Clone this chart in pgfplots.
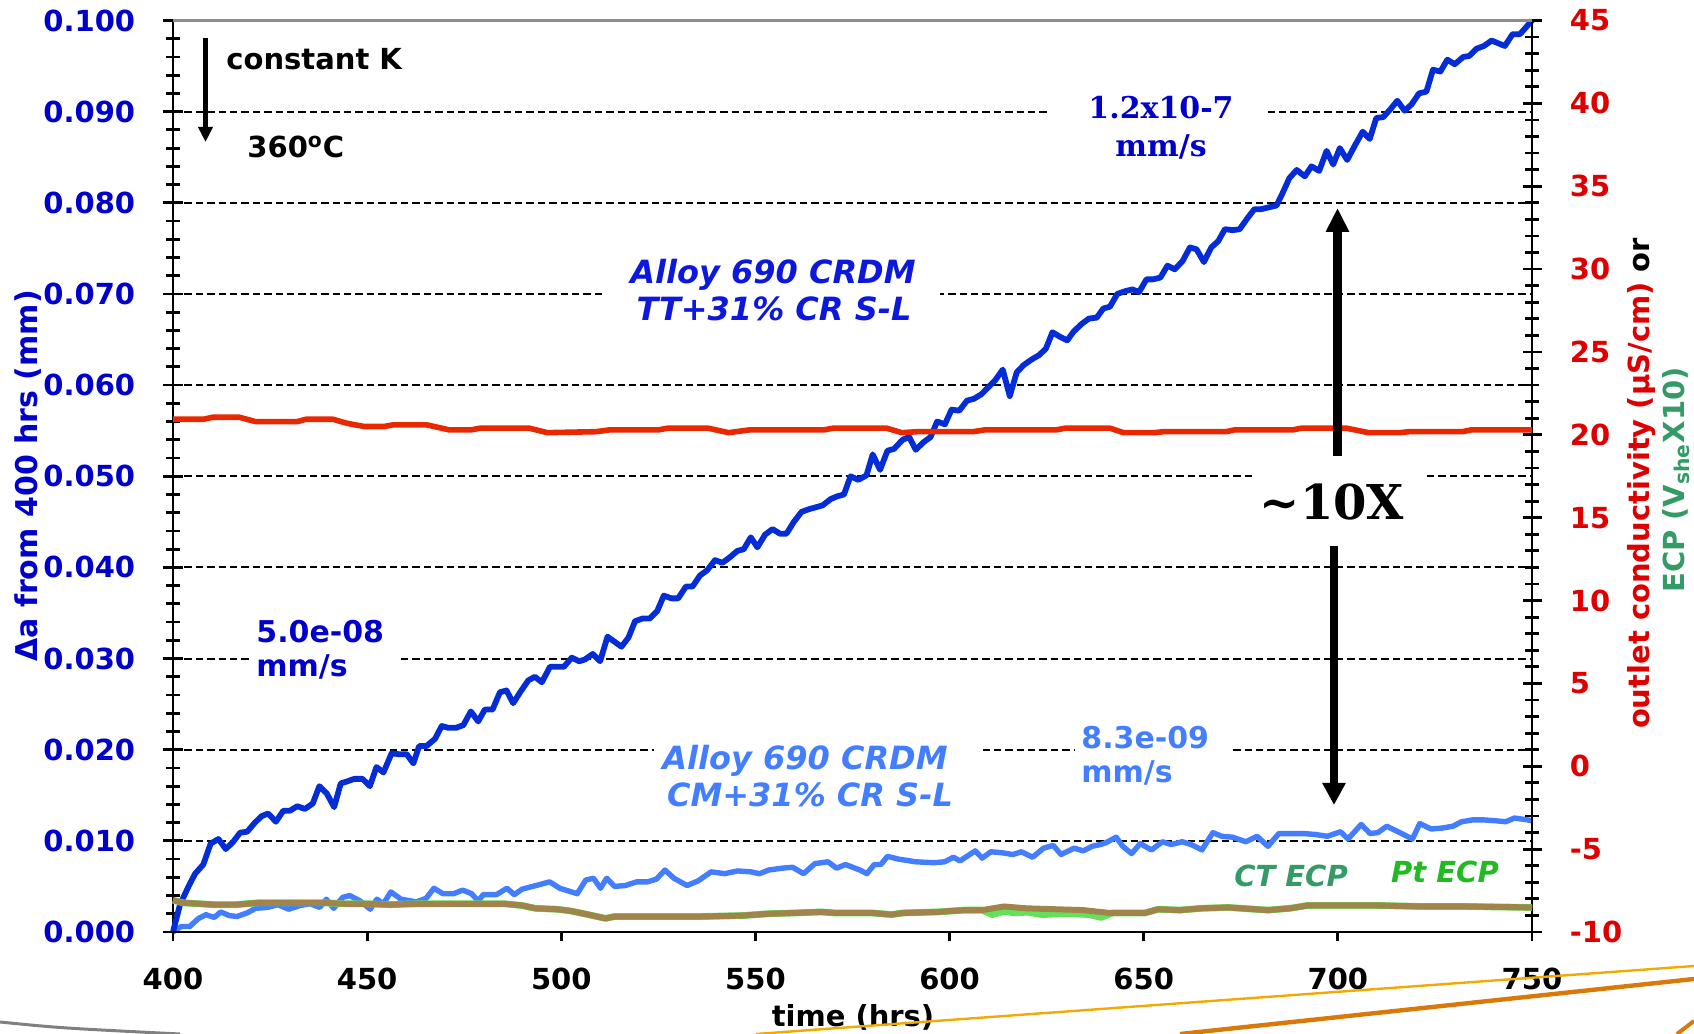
\documentclass[border=0pt]{standalone}
\usepackage{fontspec}
\setmainfont{DejaVu Sans}
\newfontfamily\serifbf{DejaVu Serif}
\usepackage{pgfplots}
\usepackage{pgfplotstable}
\pgfplotsset{compat=1.18}
\usetikzlibrary{arrows.meta}

\definecolor{tickblue}{RGB}{0,0,204}
\definecolor{ttblue}{RGB}{12,24,220}
\definecolor{curveblue}{RGB}{5,45,215}
\definecolor{cmblue}{RGB}{66,126,255}
\definecolor{condred}{RGB}{232,40,0}
\definecolor{textred}{RGB}{222,0,0}
\definecolor{ecptan}{RGB}{160,132,76}
\definecolor{ctgreen}{RGB}{52,155,102}
\definecolor{ptgreen}{RGB}{34,185,34}
\definecolor{ptline}{RGB}{100,225,90}
\definecolor{framegray}{RGB}{140,140,140}
\definecolor{swooshA}{RGB}{242,169,0}
\definecolor{swooshB}{RGB}{217,121,10}

\newcommand{\fs}[1]{\fontsize{#1}{#1}\selectfont}

% crack extension (mm) of the TT specimen
\pgfplotstableread{
t da
400.0 0.0000
401.8 0.0030
404.0 0.0050
405.7 0.0064
407.8 0.0074
409.7 0.0097
411.7 0.0102
413.6 0.0091
415.5 0.0099
417.3 0.0109
419.1 0.0110
421.1 0.0120
422.8 0.0127
424.5 0.0130
426.5 0.0121
428.4 0.0133
430.1 0.0133
432.0 0.0138
434.0 0.0135
436.0 0.0141
437.7 0.0160
439.6 0.0152
441.5 0.0137
443.2 0.0163
444.7 0.0165
446.7 0.0168
448.8 0.0168
450.7 0.0160
452.4 0.0181
454.2 0.0175
456.3 0.0196
458.3 0.0195
460.2 0.0195
461.9 0.0185
463.4 0.0204
465.3 0.0204
467.5 0.0212
469.2 0.0226
470.9 0.0224
472.9 0.0224
474.8 0.0227
476.7 0.0242
478.6 0.0231
480.3 0.0244
482.3 0.0244
484.2 0.0263
485.9 0.0265
487.6 0.0251
489.4 0.0263
491.5 0.0276
493.2 0.0280
495.0 0.0274
497.1 0.0291
499.0 0.0291
500.7 0.0291
502.7 0.0301
504.6 0.0297
506.1 0.0299
508.1 0.0305
510.0 0.0297
511.9 0.0324
515.5 0.0313
517.3 0.0323
519.0 0.0341
521.0 0.0344
522.8 0.0344
524.7 0.0352
526.4 0.0369
528.4 0.0366
530.1 0.0366
532.1 0.0379
533.8 0.0379
535.7 0.0391
537.6 0.0397
539.6 0.0408
541.5 0.0405
543.4 0.0411
545.3 0.0418
547.0 0.0420
548.8 0.0433
550.5 0.0422
552.5 0.0436
554.4 0.0442
556.3 0.0437
558.0 0.0437
559.9 0.0450
561.9 0.0461
563.9 0.0464
565.6 0.0466
567.3 0.0468
569.4 0.0475
571.1 0.0478
572.8 0.0480
574.5 0.0500
576.5 0.0496
578.6 0.0501
580.2 0.0524
582.1 0.0507
584.0 0.0528
585.7 0.0530
587.9 0.0540
589.6 0.0543
591.3 0.0529
593.2 0.0537
595.1 0.0543
596.8 0.0560
598.8 0.0557
600.5 0.0573
602.5 0.0572
604.5 0.0583
606.3 0.0585
608.2 0.0590
611.7 0.0605
613.7 0.0617
615.5 0.0588
617.3 0.0614
619.1 0.0622
621.1 0.0628
623.1 0.0633
624.8 0.0640
626.5 0.0658
628.4 0.0653
630.3 0.0649
632.0 0.0659
634.0 0.0667
635.9 0.0673
637.9 0.0674
639.6 0.0684
641.3 0.0686
643.2 0.0700
645.2 0.0703
647.1 0.0705
648.8 0.0702
650.7 0.0716
652.4 0.0716
654.3 0.0718
656.1 0.0731
658.0 0.0727
660.0 0.0736
661.9 0.0751
663.6 0.0749
665.5 0.0735
667.4 0.0751
669.2 0.0758
670.9 0.0771
672.9 0.0770
674.7 0.0771
676.7 0.0783
678.5 0.0793
680.2 0.0793
684.2 0.0797
685.7 0.0810
687.5 0.0827
689.4 0.0836
691.5 0.0829
693.2 0.0840
695.2 0.0835
697.1 0.0857
698.8 0.0842
700.5 0.0860
702.4 0.0847
704.4 0.0863
706.4 0.0878
708.2 0.0870
709.9 0.0893
711.7 0.0894
713.6 0.0903
715.3 0.0912
717.2 0.0901
719.0 0.0908
720.9 0.0920
722.8 0.0922
724.5 0.0946
726.4 0.0944
728.2 0.0957
730.1 0.0952
732.3 0.0960
733.8 0.0961
735.7 0.0969
737.6 0.0972
739.6 0.0978
741.3 0.0975
743.0 0.0972
745.0 0.0985
746.9 0.0985
750.0 0.1000
}\ttdata

% crack extension (mm) of the CM specimen
\pgfplotstableread{
t da
400.0 0.0000
402.1 0.0006
404.3 0.0006
406.6 0.0015
408.5 0.0019
410.6 0.0016
412.3 0.0022
414.5 0.0018
416.5 0.0017
419.1 0.0021
421.3 0.0026
424.4 0.0027
427.0 0.0030
429.8 0.0025
432.7 0.0029
435.3 0.0031
437.8 0.0027
439.5 0.0036
441.4 0.0026
443.7 0.0038
445.5 0.0040
448.2 0.0034
450.8 0.0025
452.5 0.0036
454.2 0.0031
456.1 0.0044
458.7 0.0036
462.7 0.0033
465.2 0.0037
467.2 0.0048
469.5 0.0042
472.3 0.0042
474.6 0.0046
476.9 0.0042
478.6 0.0034
479.9 0.0041
483.3 0.0041
486.0 0.0048
487.9 0.0041
489.9 0.0047
493.5 0.0051
497.0 0.0055
499.6 0.0048
504.1 0.0042
506.3 0.0057
508.3 0.0059
510.1 0.0048
511.7 0.0059
513.7 0.0050
516.5 0.0051
519.4 0.0055
522.2 0.0055
524.5 0.0058
526.7 0.0068
529.0 0.0059
532.4 0.0051
535.2 0.0056
538.6 0.0066
542.1 0.0064
545.4 0.0067
548.8 0.0066
551.1 0.0064
553.4 0.0068
556.8 0.0070
559.6 0.0071
562.4 0.0064
565.3 0.0075
568.7 0.0077
570.9 0.0070
573.2 0.0074
576.9 0.0068
578.7 0.0064
580.6 0.0074
582.3 0.0074
584.0 0.0083
586.8 0.0080
591.3 0.0077
595.9 0.0076
598.7 0.0077
601.0 0.0082
602.7 0.0078
606.6 0.0089
608.4 0.0081
610.6 0.0088
613.4 0.0087
616.3 0.0085
618.5 0.0088
621.4 0.0082
624.2 0.0092
626.7 0.0095
628.7 0.0085
632.1 0.0092
634.4 0.0089
636.7 0.0094
638.9 0.0096
640.3 0.0098
642.9 0.0104
644.6 0.0094
646.9 0.0086
649.1 0.0097
652.0 0.0090
654.8 0.0099
657.1 0.0096
659.9 0.0099
662.2 0.0096
665.0 0.0090
667.8 0.0109
670.1 0.0105
672.9 0.0104
676.3 0.0099
679.2 0.0105
682.0 0.0094
684.8 0.0108
687.7 0.0108
691.1 0.0108
694.2 0.0107
697.3 0.0105
700.7 0.0110
702.6 0.0102
706.0 0.0118
708.3 0.0108
710.3 0.0109
712.6 0.0116
715.5 0.0110
719.2 0.0102
721.1 0.0119
724.0 0.0113
726.8 0.0114
729.6 0.0116
731.9 0.0121
734.7 0.0123
737.5 0.0123
740.7 0.0122
743.2 0.0121
745.5 0.0125
748.9 0.0123
750.0 0.0122
}\cmdata

% outlet conductivity (uS/cm)
\pgfplotstableread{
t k
400.0 20.94
407.9 20.94
410.2 21.06
417.1 21.06
421.2 20.80
432.0 20.80
434.3 20.94
441.2 20.94
444.7 20.70
449.3 20.50
454.3 20.50
456.6 20.60
465.4 20.60
471.1 20.30
476.8 20.30
479.1 20.40
491.8 20.40
496.4 20.13
509.0 20.19
512.5 20.30
525.1 20.30
527.4 20.40
537.8 20.40
543.1 20.13
548.6 20.30
567.7 20.30
570.0 20.40
583.8 20.40
587.7 20.13
591.8 20.19
606.1 20.19
609.1 20.30
627.5 20.30
629.8 20.40
641.3 20.40
644.8 20.13
652.8 20.13
655.1 20.19
671.2 20.19
673.5 20.30
688.4 20.30
690.7 20.40
702.2 20.40
707.9 20.13
716.0 20.13
718.3 20.19
732.1 20.19
734.4 20.30
750.0 20.30
}\conddata

% ECP x10 (V_she)
\pgfplotstableread{
t e
400.0 -8.08
402.6 -8.24
410.6 -8.35
416.2 -8.35
421.9 -8.24
431.0 -8.24
438.9 -8.24
444.6 -8.30
450.2 -8.30
455.9 -8.35
462.7 -8.30
469.5 -8.30
476.3 -8.30
485.4 -8.30
489.9 -8.40
493.3 -8.57
499.0 -8.63
502.4 -8.73
506.9 -8.95
511.4 -9.18
513.7 -9.07
523.9 -9.07
535.2 -9.07
546.6 -9.01
553.4 -8.90
560.2 -8.85
567.0 -8.79
570.4 -8.85
576.9 -8.85
580.0 -8.85
585.1 -8.95
588.0 -8.85
597.0 -8.79
603.8 -8.68
608.4 -8.68
614.0 -8.46
619.7 -8.57
627.6 -8.63
634.4 -8.68
641.2 -8.85
650.3 -8.85
653.7 -8.63
659.3 -8.68
665.0 -8.57
671.8 -8.52
682.0 -8.68
687.7 -8.57
692.2 -8.40
699.0 -8.40
710.3 -8.40
721.7 -8.46
733.0 -8.46
750.0 -8.52
}\ctdata

\pgfplotstableread{
t e
400.0 -8.08
402.6 -8.24
410.6 -8.35
416.2 -8.35
421.9 -8.24
431.0 -8.24
438.9 -8.24
444.6 -8.30
450.2 -8.30
455.9 -8.35
462.7 -8.30
469.5 -8.30
476.3 -8.30
485.4 -8.30
489.9 -8.40
493.3 -8.57
499.0 -8.63
502.4 -8.73
506.9 -8.95
511.4 -9.18
513.7 -9.07
523.9 -9.07
535.2 -9.07
546.6 -9.01
553.4 -8.90
560.2 -8.85
567.0 -8.79
570.4 -8.85
576.9 -8.85
580.0 -8.85
585.1 -8.95
588.0 -8.85
597.0 -8.79
603.8 -8.68
608.4 -8.68
611.0 -8.95
614.0 -8.75
617.0 -8.85
620.0 -8.80
624.0 -8.95
628.0 -8.90
632.0 -8.90
636.0 -8.95
639.0 -9.12
642.0 -8.85
650.3 -8.85
653.7 -8.63
659.3 -8.68
665.0 -8.57
671.8 -8.52
682.0 -8.68
687.7 -8.57
692.2 -8.40
699.0 -8.40
710.3 -8.40
721.7 -8.46
733.0 -8.46
750.0 -8.52
}\ptdata

\pgfplotsset{
  frame/.style={
    scale only axis, width=679.5pt, height=455.75pt,
    at={(86.5pt,51pt)}, anchor=south west,
    xmin=400, xmax=750, clip=false,
    axis line style={line width=1.3pt, black},
    tick style={black, line width=1.4pt},
    major tick length=9.5pt, minor tick length=7pt,
  },
}

\begin{document}
\begin{tikzpicture}
\useasboundingbox (0pt,0pt) rectangle (847pt,517pt);

% left axis: crack extension
\begin{axis}[frame,
  ymin=0, ymax=0.1,
  axis x line=none, axis y line*=left,
  tick align=center,
  ytick={0,0.01,0.02,0.03,0.04,0.05,0.06,0.07,0.08,0.09,0.1},
  yticklabels={0.000,0.010,0.020,0.030,0.040,0.050,0.060,0.070,0.080,0.090,0.100},
  minor y tick num=4,
  ymajorgrids,
  grid style={black, line width=1pt, dash pattern=on 3.7pt off 2pt},
  yticklabel style={font=\fs{14.5}\bfseries, text=tickblue, anchor=east, inner sep=0pt, xshift=-14pt},
]
\addplot[cmblue, line width=2.7pt, line join=round] table[x=t, y=da] {\cmdata};
\addplot[curveblue, line width=2.9pt, line join=round] table[x=t, y=da] {\ttdata};
\end{axis}

% right axis: conductivity and ECP
\begin{axis}[frame,
  ymin=-10, ymax=45,
  axis x line=none, axis y line*=right,
  tick align=center,
  ytick={-10,-5,0,5,10,15,20,25,30,35,40,45},
  yticklabels={-10,-5,0,5,10,15,20,25,30,35,40,45},
  minor y tick num=4,
  yticklabel style={font=\fs{14.5}\bfseries, text=textred, anchor=west, inner sep=0pt, xshift=14pt},
]
\addplot[ptline, line width=3.4pt, line join=round] table[x=t, y=e] {\ptdata};
\addplot[ecptan, line width=3.0pt, line join=round] table[x=t, y=e] {\ctdata};
\addplot[condred, line width=2.8pt, line join=round] table[x=t, y=k] {\conddata};
\end{axis}

% time axis
\begin{axis}[frame,
  ymin=0, ymax=1,
  axis y line=none, axis x line*=bottom,
  tick align=outside, major tick length=4.7pt,
  xtick={400,450,500,550,600,650,700,750},
  xticklabels={400,450,500,550,600,650,700,750},
  xticklabel style={font=\fs{14.5}\bfseries, text=black, anchor=north, inner sep=0pt, yshift=-13pt},
]
\end{axis}

\begin{scope}[shift={(0pt,517pt)}, x=0.5pt, y=-0.5pt]
  % top frame line
  \draw[framegray, line width=1.6pt] (173,20.5) -- (1532,20.5);

  % breaks in the grid behind the annotations
  \fill[white] (1050,105) rectangle (1268,118);
  \fill[white] (605,288) rectangle (940,301);
  \fill[white] (1256,470) rectangle (1424,483);
  \fill[white] (250,652) rectangle (400,665);
  \fill[white] (654,743) rectangle (983,756);
  \fill[white] (1075,743) rectangle (1232,756);

  % test conditions
  \draw[line width=2.3pt, -{Triangle[length=7.5pt, width=7pt]}] (205.5,38) -- (205.5,142);
  \node[anchor=base west, font=\fs{14.5}\bfseries, inner sep=0pt] at (226,70) {constant K};
  \node[anchor=base west, font=\fs{14.5}\bfseries, inner sep=0pt] at (247,158) {360\textsuperscript{o}C};

  % growth rates
  \node[anchor=base, font=\serifbf\fs{15}\bfseries, text=tickblue, inner sep=0pt] at (1161,119) {1.2x10-7};
  \node[anchor=base, font=\serifbf\fs{15}\bfseries, text=tickblue, inner sep=0pt] at (1161,157) {mm/s};
  \node[anchor=base west, font=\fs{15}\bfseries, text=tickblue, inner sep=0pt] at (256,643) {5.0e-08};
  \node[anchor=base west, font=\fs{15}\bfseries, text=tickblue, inner sep=0pt] at (256,677) {mm/s};
  \node[anchor=base west, font=\fs{15}\bfseries, text=cmblue, inner sep=0pt] at (1081,749) {8.3e-09};
  \node[anchor=base west, font=\fs{15}\bfseries, text=cmblue, inner sep=0pt] at (1081,783) {mm/s};

  % specimen labels
  \node[anchor=base, font=\fs{16}\bfseries\itshape, text=ttblue, inner sep=0pt] at (773,284) {Alloy 690 CRDM};
  \node[anchor=base, font=\fs{16}\bfseries\itshape, text=ttblue, inner sep=0pt] at (774,321) {TT+31\% CR S-L};
  \node[anchor=base, font=\fs{16}\bfseries\itshape, text=cmblue, inner sep=0pt] at (805,770) {Alloy 690 CRDM};
  \node[anchor=base, font=\fs{16}\bfseries\itshape, text=cmblue, inner sep=0pt] at (810,807) {CM+31\% CR S-L};
  \node[anchor=base, font=\fs{14.5}\bfseries\itshape, text=ctgreen, inner sep=0pt] at (1291,887) {CT ECP};
  \node[anchor=base, font=\fs{14.5}\bfseries\itshape, text=ptgreen, inner sep=0pt] at (1445,883) {Pt ECP};

  % rate ratio
  \node[anchor=base, font=\serifbf\fs{24}\bfseries, inner sep=0pt] at (1332,520) {\textasciitilde10X};
  \draw[line width=4.2pt, -{Triangle[length=12pt, width=11pt]}] (1337.5,456) -- (1337.5,208);
  \draw[line width=4.2pt, -{Triangle[length=11pt, width=11pt]}] (1334,546) -- (1334,805);

  % axis titles
  \node[rotate=90, anchor=base, font=\fs{15}\bfseries, text=tickblue, inner sep=0pt] at (38,476) {Δa from 400 hrs (mm)};
  \node[rotate=90, anchor=base, font=\fs{14.5}\bfseries, inner sep=0pt] at (1649,483.5) {\textcolor{textred}{outlet conductivity (µS/cm)} or};
  \node[rotate=90, anchor=base, font=\fs{14.5}\bfseries, text=ctgreen, inner sep=0pt] at (1684,480) {ECP (V\textsubscript{she}X10)};
  \node[anchor=base, font=\fs{14.5}\bfseries, inner sep=0pt] at (853,1027) {time (hrs)};

  % slide decoration
  \draw[gray, line width=1.5pt] (0,1022) .. controls (60,1028) .. (180,1034);
  \draw[swooshA, line width=1.2pt] (756,1034) -- (1694,966);
  \draw[swooshB, line width=2.2pt] (1180,1034) -- (1694,979);
  \draw[swooshB, line width=2pt] (1677,1034) -- (1694,1021);
\end{scope}
\end{tikzpicture}
\end{document}
